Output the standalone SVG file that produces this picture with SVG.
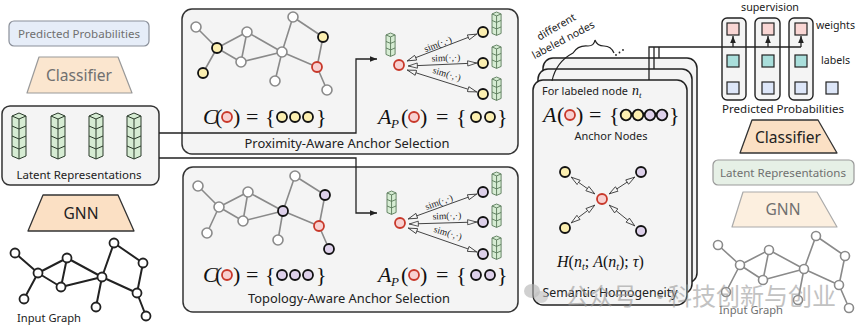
<svg xmlns="http://www.w3.org/2000/svg" xmlns:xlink="http://www.w3.org/1999/xlink" width="865" height="329" viewBox="0 0 865 329">
<style>
.t{font-family:"Noto Sans","DejaVu Sans",sans-serif;fill:#222}
.tg{font-family:"Noto Sans","DejaVu Sans",sans-serif;fill:#707070}
.m{font-family:"Liberation Serif","DejaVu Serif",serif;fill:#111}
.i{font-style:italic}
.panel{fill:#f4f4f4;stroke:#333;stroke-width:1.5}
.card{fill:#f4f4f4;stroke:#222;stroke-width:1.5}
.e{fill:none;stroke:#222;stroke-width:2}
.eg{fill:none;stroke:#8a8a8a;stroke-width:1.6}
.nw{fill:#fff;stroke:#222;stroke-width:1.8}
.ng{fill:#fff;stroke:#8a8a8a;stroke-width:1.6}
.ny{fill:#fcefb0;stroke:#111;stroke-width:1.8}
.np{fill:#ddd0ea;stroke:#111;stroke-width:1.8}
.nr{fill:#f8d0d0;stroke:#c8382a;stroke-width:1.8}
.conn{fill:none;stroke:#222;stroke-width:1.3}
.sim{fill:none;stroke:#444;stroke-width:1;marker-start:url(#hol);marker-end:url(#hol)}
.lbl{font-family:"Liberation Serif","DejaVu Serif",serif;font-size:9.5px;fill:#222}
.wm{font-family:"Noto Sans CJK SC",sans-serif;fill:#9a9a9a;opacity:0.6}
</style>
<defs>
<marker id="ah" viewBox="0 0 10 10" refX="10" refY="5" markerWidth="7" markerHeight="7" markerUnits="userSpaceOnUse" orient="auto"><path d="M0,1 L10,5 L0,9z" fill="#222"/></marker>
<marker id="hol" viewBox="0 0 12 8" refX="12" refY="4" markerWidth="10" markerHeight="6.5" markerUnits="userSpaceOnUse" orient="auto-start-reverse"><path d="M0.5,0.8 L11.5,4 L0.5,7.2z" fill="#f4f4f4" stroke="#333" stroke-width="1"/></marker>
<g id="s4" fill="#d6ecd3" stroke="#2a3a2a" stroke-width="1" stroke-linejoin="round">
<path d="M7,0 L14,3 L14,43 L7,46 L0,43 L0,3 Z"/>
<path fill="none" d="M0,3 L7,6 L14,3 M0,13 L7,16 L14,13 M0,23 L7,26 L14,23 M0,33 L7,36 L14,33 M7,6 V46"/>
</g>
<g id="s3" fill="#d6ecd3" stroke="#5a7a5a" stroke-width="1.4" stroke-linejoin="round">
<path d="M7,0 L14,3 L14,33 L7,36 L0,33 L0,3 Z"/>
<path fill="none" d="M0,3 L7,6 L14,3 M0,13 L7,16 L14,13 M0,23 L7,26 L14,23 M7,6 V36"/>
</g>
</defs>
<rect width="865" height="329" fill="#fff"/>

<!-- Left column -->
<g id="left-pred">
<rect x="9" y="21" width="140" height="25" rx="5" fill="#e6edf8" stroke="#8a8f99" stroke-width="1.2"/>
<text class="tg" x="79" y="37.5" font-size="11" text-anchor="middle" textLength="122" lengthAdjust="spacingAndGlyphs">Predicted Probabilities</text>
</g>
<g id="left-classifier">
<polygon points="39,57 118,57 132,93 27,93" fill="#fbe6cf" stroke="#999" stroke-width="1.2" stroke-linejoin="round"/>
<text class="tg" x="79" y="81" font-size="16" text-anchor="middle" textLength="66" lengthAdjust="spacingAndGlyphs">Classifier</text>
</g>
<g id="left-latent">
<rect x="2" y="106" width="157" height="79" rx="8" class="panel"/>
<use xlink:href="#s4" x="12" y="113"/>
<use xlink:href="#s4" x="51" y="113"/>
<use xlink:href="#s4" x="89" y="113"/>
<use xlink:href="#s4" x="127" y="113"/>
<text class="t" x="79" y="179" font-size="11" text-anchor="middle" textLength="125" lengthAdjust="spacingAndGlyphs">Latent Representations</text>
</g>
<g id="left-gnn">
<polygon points="43,195 118,195 134,231 28,231" fill="#fbe0c4" stroke="#333" stroke-width="1.3" stroke-linejoin="round"/>
<text class="t" x="81" y="219" font-size="16" text-anchor="middle" textLength="35" lengthAdjust="spacingAndGlyphs">GNN</text>
</g>
<g id="left-input-graph">
<path class="e" d="M15,253L38,273 M38,273L67,258 M38,273L61,287 M67,258L61,287 M38,273L24,299 M67,258L102,277 M61,287L102,277 M102,277L114,243 M114,243L143,263 M143,263L137,293 M102,277L137,293 M102,277L96,307 M137,293L146,316"/>
<g class="nw">
<circle cx="15" cy="253" r="4.5"/><circle cx="38" cy="273" r="4.5"/><circle cx="67" cy="258" r="4.5"/><circle cx="61" cy="287" r="4.5"/><circle cx="24" cy="299" r="4.5"/><circle cx="102" cy="277" r="4.5"/><circle cx="114" cy="243" r="4.5"/><circle cx="143" cy="263" r="4.5"/><circle cx="137" cy="293" r="4.5"/><circle cx="96" cy="307" r="4.5"/><circle cx="146" cy="316" r="4.5"/>
</g>
<text class="t" x="17" y="322" font-size="11" textLength="64" lengthAdjust="spacingAndGlyphs">Input Graph</text>
</g>

<!-- Upper panel -->
<g id="proximity-panel">
<rect x="182" y="9" width="336" height="145" rx="10" class="panel"/>
<path class="eg" d="M196,27L217,48 M217,48L247,32 M217,48L241,62 M247,32L241,62 M217,48L203,73 M247,32L282,52 M241,62L282,52 M282,52L293,17 M293,17L323,37 M323,37L317,67 M282,52L317,67 M282,52L275,81 M317,67L327,90"/>
<circle class="ng" cx="196" cy="27" r="5"/><circle class="ny" cx="217" cy="48" r="5"/><circle class="ng" cx="247" cy="32" r="5"/><circle class="ng" cx="241" cy="62" r="5"/><circle class="ny" cx="203" cy="73" r="5"/><circle class="ng" cx="282" cy="52" r="5"/><circle class="ng" cx="293" cy="17" r="5"/><circle class="ny" cx="323" cy="37" r="5"/><circle class="nr" cx="317" cy="67" r="5"/><circle class="ng" cx="275" cy="81" r="5"/><circle class="ng" cx="327" cy="90" r="5"/>
<text class="m i" x="203" y="124" font-size="22">C</text>
<text class="m" x="215" y="124" font-size="22">(</text>
<circle class="nr" cx="227" cy="117" r="5"/>
<text class="m" x="233" y="124" font-size="22">)</text>
<text class="m" x="246" y="124" font-size="22">=</text>
<text class="m" x="265" y="124" font-size="22">{</text>
<circle class="ny" cx="282" cy="117" r="5"/><circle class="ny" cx="295" cy="117" r="5"/><circle class="ny" cx="308" cy="117" r="5"/>
<text class="m" x="316" y="124" font-size="22">}</text>
<use xlink:href="#s3" transform="translate(386,33) scale(0.65)"/>
<use xlink:href="#s3" transform="translate(492,12) scale(0.65)"/>
<use xlink:href="#s3" transform="translate(492,45) scale(0.65)"/>
<use xlink:href="#s3" transform="translate(492,77) scale(0.65)"/>
<line class="sim" x1="407" y1="61" x2="477" y2="34"/>
<line class="sim" x1="408" y1="66" x2="477" y2="63"/>
<line class="sim" x1="407" y1="70" x2="477" y2="92"/>
<circle class="nr" cx="399" cy="65" r="5"/>
<circle class="ny" cx="483" cy="32" r="5"/><circle class="ny" cx="483" cy="63" r="5"/><circle class="ny" cx="483" cy="94" r="5"/>
<text class="lbl" transform="translate(439,47) rotate(-21)" text-anchor="middle">sim(·,·)</text>
<text class="lbl" transform="translate(446,61) rotate(-2)" text-anchor="middle">sim(·,·)</text>
<text class="lbl" transform="translate(446,77) rotate(17)" text-anchor="middle">sim(·,·)</text>
<text class="m i" x="378" y="124" font-size="22">A</text>
<text class="m i" x="391" y="128" font-size="13">P</text>
<text class="m" x="401" y="124" font-size="22">(</text>
<circle class="nr" cx="414" cy="117" r="5"/>
<text class="m" x="420" y="124" font-size="22">)</text>
<text class="m" x="436" y="124" font-size="22">=</text>
<text class="m" x="456" y="124" font-size="22">{</text>
<circle class="ny" cx="476" cy="117" r="5"/><circle class="ny" cx="490" cy="117" r="5"/>
<text class="m" x="497" y="124" font-size="22">}</text>
<text class="t" x="347" y="148" font-size="12" text-anchor="middle" textLength="205" lengthAdjust="spacingAndGlyphs">Proximity-Aware Anchor Selection</text>
</g>

<!-- Lower panel -->
<g id="topology-panel">
<rect x="183" y="167" width="335" height="145" rx="10" class="panel"/>
<path class="eg" d="M198,186L219,207 M219,207L248,192 M219,207L243,221 M248,192L243,221 M219,207L207,233 M248,192L283,211 M243,221L283,211 M283,211L295,176 M295,176L325,195 M325,195L319,226 M283,211L319,226 M283,211L278,240 M319,226L329,249"/>
<circle class="ng" cx="198" cy="186" r="5"/><circle class="ng" cx="219" cy="207" r="5"/><circle class="ng" cx="248" cy="192" r="5"/><circle class="ng" cx="243" cy="221" r="5"/><circle class="ng" cx="207" cy="233" r="5"/><circle class="np" cx="283" cy="211" r="5"/><circle class="ng" cx="295" cy="176" r="5"/><circle class="np" cx="325" cy="195" r="5"/><circle class="nr" cx="319" cy="226" r="5"/><circle class="ng" cx="278" cy="240" r="5"/><circle class="np" cx="329" cy="249" r="5"/>
<text class="m i" x="203" y="282" font-size="22">C</text>
<text class="m" x="215" y="282" font-size="22">(</text>
<circle class="nr" cx="227" cy="275" r="5"/>
<text class="m" x="233" y="282" font-size="22">)</text>
<text class="m" x="246" y="282" font-size="22">=</text>
<text class="m" x="265" y="282" font-size="22">{</text>
<circle class="np" cx="282" cy="275" r="5"/><circle class="np" cx="295" cy="275" r="5"/><circle class="np" cx="308" cy="275" r="5"/>
<text class="m" x="316" y="282" font-size="22">}</text>
<use xlink:href="#s3" transform="translate(387,191) scale(0.65)"/>
<use xlink:href="#s3" transform="translate(492,172) scale(0.65)"/>
<use xlink:href="#s3" transform="translate(492,204) scale(0.65)"/>
<use xlink:href="#s3" transform="translate(492,236) scale(0.65)"/>
<line class="sim" x1="408" y1="219" x2="477" y2="194"/>
<line class="sim" x1="409" y1="224" x2="477" y2="222"/>
<line class="sim" x1="408" y1="228" x2="477" y2="252"/>
<circle class="nr" cx="400" cy="223" r="5"/>
<circle class="np" cx="483" cy="192" r="5"/><circle class="np" cx="483" cy="222" r="5"/><circle class="np" cx="483" cy="254" r="5"/>
<text class="lbl" transform="translate(440,205) rotate(-20)" text-anchor="middle">sim(·,·)</text>
<text class="lbl" transform="translate(447,219) rotate(-2)" text-anchor="middle">sim(·,·)</text>
<text class="lbl" transform="translate(447,236) rotate(17)" text-anchor="middle">sim(·,·)</text>
<text class="m i" x="378" y="282" font-size="22">A</text>
<text class="m i" x="391" y="286" font-size="13">P</text>
<text class="m" x="401" y="282" font-size="22">(</text>
<circle class="nr" cx="414" cy="275" r="5"/>
<text class="m" x="420" y="282" font-size="22">)</text>
<text class="m" x="436" y="282" font-size="22">=</text>
<text class="m" x="456" y="282" font-size="22">{</text>
<circle class="np" cx="476" cy="275" r="5"/><circle class="np" cx="490" cy="275" r="5"/>
<text class="m" x="497" y="282" font-size="22">}</text>
<text class="t" x="349" y="303" font-size="12" text-anchor="middle" textLength="202" lengthAdjust="spacingAndGlyphs">Topology-Aware Anchor Selection</text>
</g>

<!-- Middle stacked cards -->
<g id="semantic-cards">
<rect x="543" y="58" width="154" height="225" rx="10" class="card"/>
<rect x="538" y="69" width="154" height="225" rx="10" class="card"/>
<rect x="533" y="80" width="154" height="225" rx="10" class="card"/>
<text class="t" x="542" y="95" font-size="11" textLength="86" lengthAdjust="spacingAndGlyphs">For labeled node</text>
<text class="m i" x="632" y="95" font-size="14">n</text>
<text class="m i" x="639" y="98" font-size="9">t</text>
<text class="m i" x="543" y="122" font-size="22">A</text>
<text class="m" x="557" y="122" font-size="22">(</text>
<circle class="nr" cx="570" cy="115" r="5"/>
<text class="m" x="576" y="122" font-size="22">)</text>
<text class="m" x="589" y="122" font-size="22">=</text>
<text class="m" x="609" y="122" font-size="22">{</text>
<circle class="ny" cx="626" cy="115" r="5.3"/><circle class="ny" cx="638" cy="115" r="5.3"/><circle class="np" cx="650" cy="115" r="5.3"/><circle class="np" cx="662" cy="115" r="5.3"/>
<text class="m" x="669" y="122" font-size="22">}</text>
<text class="t" x="611" y="140" font-size="11" text-anchor="middle" textLength="73" lengthAdjust="spacingAndGlyphs">Anchor Nodes</text>
<line class="sim" x1="571" y1="177" x2="595" y2="194"/>
<line class="sim" x1="635" y1="177" x2="609" y2="194"/>
<line class="sim" x1="571" y1="223" x2="595" y2="205"/>
<line class="sim" x1="635" y1="226" x2="609" y2="205"/>
<circle class="nr" cx="602" cy="199" r="5"/>
<circle class="ny" cx="565" cy="172" r="5"/><circle class="np" cx="641" cy="172" r="5"/><circle class="ny" cx="565" cy="228" r="5"/><circle class="np" cx="641" cy="231" r="5"/>
<text class="m" x="557" y="267" font-size="16"><tspan class="i">H</tspan>(<tspan class="i">n</tspan><tspan class="i" font-size="10" dy="3">t</tspan><tspan dy="-3">; </tspan><tspan class="i">A</tspan>(<tspan class="i">n</tspan><tspan class="i" font-size="10" dy="3">t</tspan><tspan dy="-3">); </tspan><tspan class="i">τ</tspan>)</text>
<text class="t" x="610" y="297" font-size="12" text-anchor="middle" textLength="135" lengthAdjust="spacingAndGlyphs">Semantic Homogeneity</text>
</g>
<g id="labeled-nodes-note">
<text class="t" transform="translate(558,30) rotate(-30)" font-size="10.5" text-anchor="middle">different</text>
<text class="t" transform="translate(565,43) rotate(-28)" font-size="10.5" text-anchor="middle">labeled nodes</text>
<path fill="none" stroke="#222" stroke-width="1.2" d="M552,81 Q556,62 573,53 Q578,45 588,46 Q594,46 595,40 Q597,46 604,46 Q611,46 614,53"/>
<circle cx="616" cy="55" r="0.9" fill="#222"/><circle cx="619.5" cy="52.5" r="0.9" fill="#222"/><circle cx="623" cy="50" r="0.9" fill="#222"/>
</g>

<!-- Right supervision -->
<g id="supervision">
<text class="t" x="770" y="11" font-size="10" text-anchor="middle" textLength="58" lengthAdjust="spacingAndGlyphs">supervision</text>
<rect x="722" y="18" width="24" height="82" rx="5" fill="#f4f4f4" stroke="#222" stroke-width="1.4"/>
<rect x="755" y="18" width="25" height="82" rx="5" fill="#f4f4f4" stroke="#222" stroke-width="1.4"/>
<rect x="789" y="18" width="24" height="82" rx="5" fill="#f4f4f4" stroke="#222" stroke-width="1.4"/>
<g stroke="#222" stroke-width="1.2">
<rect x="727" y="23" width="12" height="12" fill="#f9d6d4"/><rect x="762" y="23" width="12" height="12" fill="#f9d6d4"/><rect x="795" y="23" width="12" height="12" fill="#f9d6d4"/>
<rect x="727" y="55" width="12" height="12" fill="#a9dedb"/><rect x="762" y="55" width="12" height="12" fill="#a9dedb"/><rect x="795" y="55" width="12" height="12" fill="#a9dedb"/>
<rect x="727" y="82" width="12" height="12" fill="#dde6f8"/><rect x="762" y="82" width="12" height="12" fill="#dde6f8"/><rect x="795" y="82" width="12" height="12" fill="#dde6f8"/>
<rect x="826" y="82" width="12" height="12" fill="#dde6f8"/>
</g>
<text class="t" x="816" y="29" font-size="10.5" textLength="39" lengthAdjust="spacingAndGlyphs">weights</text>
<text class="t" x="821" y="64" font-size="10.5" textLength="29" lengthAdjust="spacingAndGlyphs">labels</text>
<text class="t" x="783" y="113" font-size="11" text-anchor="middle" textLength="122" lengthAdjust="spacingAndGlyphs">Predicted Probabilities</text>
</g>
<g id="right-classifier">
<polygon points="752,120 818,120 837,153 740,153" fill="#fbe0c4" stroke="#333" stroke-width="1.3" stroke-linejoin="round"/>
<text class="t" x="788" y="143" font-size="16" text-anchor="middle" textLength="66" lengthAdjust="spacingAndGlyphs">Classifier</text>
</g>
<g id="right-latent">
<rect x="713" y="160" width="141" height="25" rx="5" fill="#e6f0e6" stroke="#999" stroke-width="1.2"/>
<text class="tg" x="783" y="177" font-size="11" text-anchor="middle" textLength="126" lengthAdjust="spacingAndGlyphs">Latent Representations</text>
</g>
<g id="right-gnn">
<polygon points="743,192 817,192 837,227 732,227" fill="#fcefdf" stroke="#aaa" stroke-width="1.2" stroke-linejoin="round"/>
<text class="tg" x="783" y="215" font-size="16" text-anchor="middle" textLength="35" lengthAdjust="spacingAndGlyphs">GNN</text>
</g>
<g id="right-input-graph">
<path class="eg" d="M718,245L740,265 M740,265L769,250 M740,265L763,280 M769,250L763,280 M740,265L726,292 M769,250L804,269 M763,280L804,269 M804,269L816,236 M816,236L845,256 M845,256L839,285 M804,269L839,285 M804,269L798,300 M839,285L849,308"/>
<g class="ng">
<circle cx="718" cy="245" r="4.5"/><circle cx="740" cy="265" r="4.5"/><circle cx="769" cy="250" r="4.5"/><circle cx="763" cy="280" r="4.5"/><circle cx="726" cy="292" r="4.5"/><circle cx="804" cy="269" r="4.5"/><circle cx="816" cy="236" r="4.5"/><circle cx="845" cy="256" r="4.5"/><circle cx="839" cy="285" r="4.5"/><circle cx="798" cy="300" r="4.5"/><circle cx="849" cy="308" r="4.5"/>
</g>
<text class="tg" x="751" y="314" font-size="11" text-anchor="middle" textLength="64" lengthAdjust="spacingAndGlyphs">Input Graph</text>
</g>

<!-- Connectors -->
<g id="connectors">
<path class="conn" d="M159,133 H356 V59 H377" marker-end="url(#ah)"/>
<path class="conn" d="M159,158 H356 V213 H377" marker-end="url(#ah)"/>
<path class="conn" d="M649,80 V47 H801 M654,69 V47 M659,58 V47"/>
<line class="conn" x1="733" y1="47" x2="733" y2="36" marker-end="url(#ah)"/>
<line class="conn" x1="768" y1="47" x2="768" y2="36" marker-end="url(#ah)"/>
<line class="conn" x1="801" y1="47" x2="801" y2="36" marker-end="url(#ah)"/>
</g>

<!-- Watermark -->
<g id="watermark">
<ellipse cx="532" cy="291" rx="8" ry="7" fill="#b0b0b0" opacity="0.6"/>
<ellipse cx="541" cy="297" rx="7" ry="6" fill="#c0c0c0" opacity="0.6"/>
<text class="wm" x="565" y="305" font-size="24">公众号</text>
<text class="wm" x="648" y="305" font-size="24">·</text>
<text class="wm" x="668" y="305" font-size="24">科技创新与创业</text>
</g>
</svg>
